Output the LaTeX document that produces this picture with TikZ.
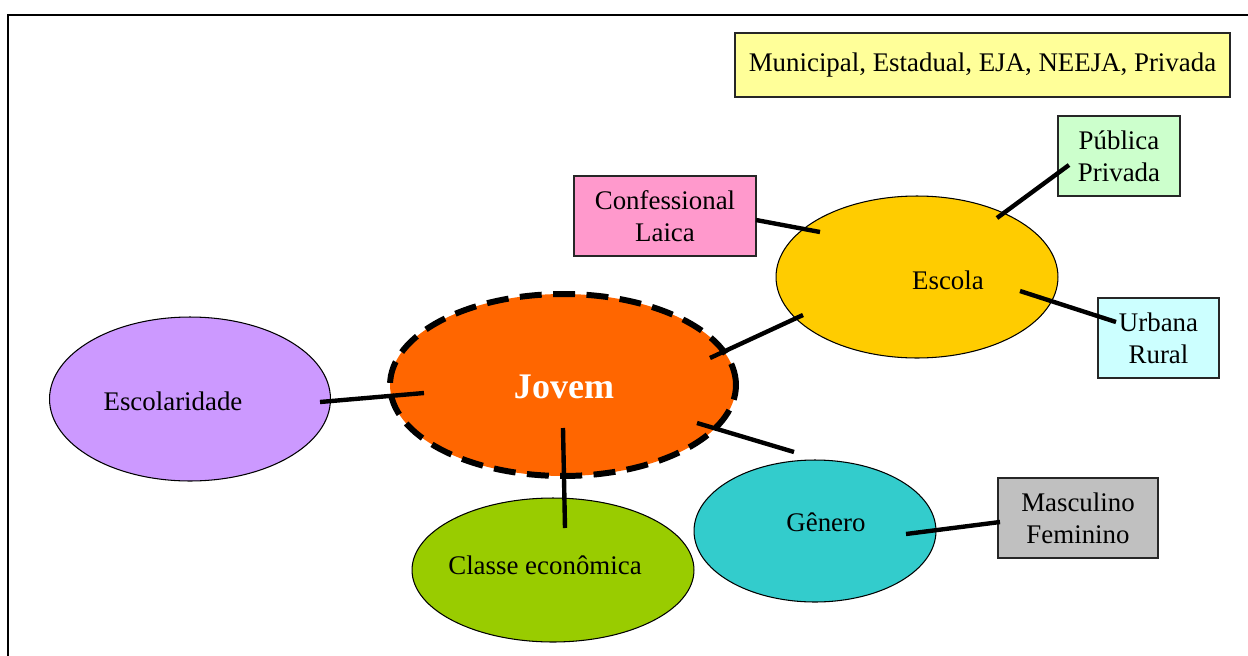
\documentclass[tikz,border=0pt]{standalone}
\usepackage{fontspec}
\setmainfont{Liberation Serif}
\usetikzlibrary{shapes.geometric,calc}
\definecolor{cJovem}{HTML}{FF6600}
\definecolor{cEscola}{HTML}{FFCC00}
\definecolor{cEscolar}{HTML}{CC99FF}
\definecolor{cClasse}{HTML}{99CC00}
\definecolor{cGenero}{HTML}{33CCCC}
\definecolor{cYellow}{HTML}{FFFF99}
\definecolor{cGreen}{HTML}{CCFFCC}
\definecolor{cPink}{HTML}{FF99CC}
\definecolor{cCyan}{HTML}{CCFFFF}
\definecolor{cGrey}{HTML}{C0C0C0}
\newcommand{\lblfont}{\fontsize{15.3}{18}\selectfont}
\tikzset{
  oval/.style={ellipse, draw=black, line width=0.6pt, inner sep=0pt},
  infobox/.style={rectangle, draw=black!85, line width=0.8pt, inner sep=0pt, align=center, font=\lblfont},
  lbl/.style={font=\lblfont, inner sep=0pt},
  link/.style={line width=2.5pt, black},
  frameline/.style={line width=1.2pt, black}
}
\begin{document}
\begin{tikzpicture}[x=0.02cm,y=-0.02cm]
\useasboundingbox (0,0) rectangle (1248,656);
\draw[frameline] (1248,15) -- (8,15) -- (8,656);

% boxes
\node[infobox, fill=cYellow, minimum width=9.9cm, minimum height=1.28cm] (tipos) at (982.5,65) {Municipal, Estadual, EJA, NEEJA, Privada};
\node[infobox, fill=cGreen, minimum width=2.44cm, minimum height=1.6cm] (publica) at (1119,156) {Pública\\Privada};
\node[infobox, fill=cPink, minimum width=3.64cm, minimum height=1.6cm] (confess) at (665,216) {Confessional\\Laica};
\node[infobox, fill=cCyan, minimum width=2.42cm, minimum height=1.6cm] (urbana) at (1158.5,338) {Urbana\\Rural};
\node[infobox, fill=cGrey, minimum width=3.2cm, minimum height=1.6cm] (masc) at (1078,518) {Masculino\\Feminino};

% ellipses
\node[oval, fill=cEscola, minimum width=5.64cm, minimum height=3.24cm] (escola) at (917,277) {};
\node[oval, fill=cEscolar, minimum width=5.62cm, minimum height=3.28cm] (escolar) at (190,399) {};
\node[oval, fill=cClasse, minimum width=5.64cm, minimum height=2.88cm] (classe) at (553,570) {};
\node[oval, fill=cGenero, minimum width=4.84cm, minimum height=2.84cm] (genero) at (815,531) {};
\node[ellipse, fill=cJovem, draw=black, line width=3.4pt, dash pattern=on 12.5pt off 6.5pt, inner sep=0pt, minimum width=6.92cm, minimum height=3.64cm] (jovem) at (563,385) {};

% labels
\node[lbl] (escolaT) at (948,280) {Escola};
\node[lbl] (escolarT) at (173,401) {Escolaridade};
\node[lbl] (classeT) at (545,565) {Classe econômica};
\node[lbl] (generoT) at (826,522) {Gênero};
\node[inner sep=0pt, text=white, font=\fontsize{20.5}{22}\selectfont\bfseries] (jovemT) at (564,387) {Jovem};

% connectors
\draw[link] ($(escolar)+(130,3)$) -- ($(jovem)+(-139,8)$);
\draw[link] ($(jovem)+(147,-27)$) -- ($(escola)+(-114,38)$);
\draw[link] ($(confess)+(91,4)$) -- ($(escola)+(-97,-45)$);
\draw[link] ($(escola)+(80,-59)$) -- ($(publica)+(-50,9)$);
\draw[link] ($(escola)+(103,14)$) -- ($(urbana)+(-42.5,-16)$);
\draw[link] ($(jovem)+(134,38)$) -- ($(genero)+(-21,-79)$);
\draw[link] ($(jovem)+(0,43)$) -- ($(classe)+(12,-42)$);
\draw[link] ($(genero)+(91,3)$) -- ($(masc)+(-78,4)$);
\end{tikzpicture}
\end{document}
